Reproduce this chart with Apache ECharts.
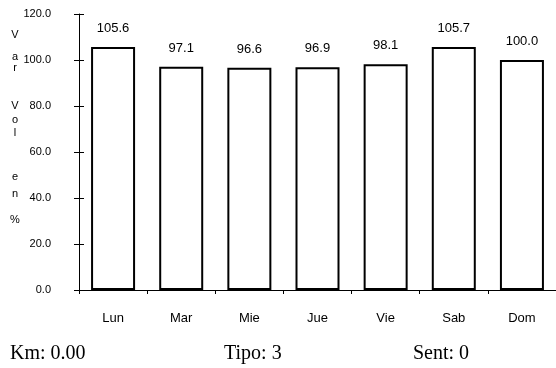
<!DOCTYPE html>
<html>
<head>
<meta charset="utf-8">
<script src="https://cdn.jsdelivr.net/npm/echarts@6/dist/echarts.min.js"></script>
<style>
html,body{margin:0;padding:0;background:#fff;}
#c{width:556px;height:368px;}
</style>
</head>
<body>
<div id="c"></div>
<script>
var categories = ['Lun', 'Mar', 'Mie', 'Jue', 'Vie', 'Sab', 'Dom'];
var values = [105.6, 97.1, 96.6, 96.9, 98.1, 105.7, 100.0];
var yTitle = 'Var Vol en %';
var footer = ['Km: 0.00', 'Tipo: 3', 'Sent: 0'];

// layout (styling only): vertical centre of each visible title character
var titleCharY = [35, 57, 68, 106, 120, 133, 177, 194, 220];
var footerX = [10, 224, 413];

var chart = echarts.init(document.getElementById('c'), null, {renderer: 'canvas'});
var font = 'Liberation Sans, Arial, sans-serif';
var serif = 'Liberation Serif, Times New Roman, serif';
var yAxisBase = {
  type: 'value', min: 0, max: 120, interval: 20, position: 'left',
  splitLine: {show: false}
};

var graphics = [];
var chars = yTitle.replace(/ /g, '').split('');
chars.forEach(function (ch, i) {
  graphics.push({type: 'text', x: 15, y: titleCharY[i], style: {
    text: ch, fill: '#000', font: '11px ' + font, align: 'center', verticalAlign: 'middle'}});
});
footer.forEach(function (t, i) {
  graphics.push({type: 'text', x: footerX[i], y: 344, style: {
    text: t, fill: '#000', font: '20px ' + serif, align: 'left', verticalAlign: 'top'}});
});

chart.setOption({
  animation: false,
  backgroundColor: '#fff',
  grid: {left: 79, top: 14, width: 480, height: 276, containLabel: false},
  xAxis: {
    type: 'category', data: categories,
    axisLine: {lineStyle: {color: '#000', width: 1}},
    axisTick: {show: true, length: 4, lineStyle: {color: '#000'}},
    axisLabel: {color: '#000', fontFamily: font, fontSize: 13, margin: 22}
  },
  yAxis: [
    Object.assign({}, yAxisBase, {
      axisLine: {show: true, lineStyle: {color: '#000', width: 1}},
      axisTick: {show: true, length: 5, lineStyle: {color: '#000'}},
      axisLabel: {color: '#000', fontFamily: font, fontSize: 11, margin: 28,
        formatter: function (v) { return v.toFixed(1); }}
    }),
    Object.assign({}, yAxisBase, {
      axisLine: {show: false},
      axisTick: {show: true, inside: true, length: 5, lineStyle: {color: '#000'}},
      axisLabel: {show: false}
    })
  ],
  series: [{
    type: 'bar', data: values, yAxisIndex: 0, barWidth: 44,
    itemStyle: {color: '#fff', borderColor: '#000', borderWidth: 2},
    label: {show: true, position: 'top', distance: 12, color: '#000',
      fontFamily: font, fontSize: 13,
      formatter: function (p) { return p.value.toFixed(1); }}
  }],
  graphic: graphics
});
</script>
</body>
</html>
